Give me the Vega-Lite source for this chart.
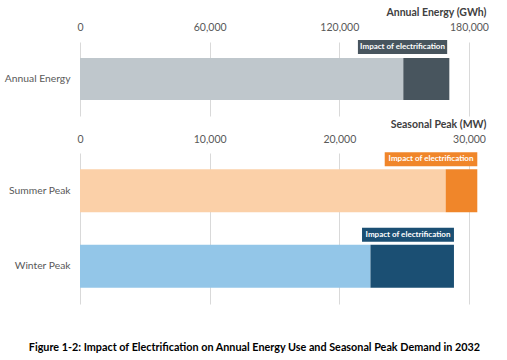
{
  "$schema": "https://vega.github.io/schema/vega-lite/v6.json",
  "padding": {"left": 4, "top": 7, "right": 5, "bottom": 5},
  "background": "white",
  "config": {
    "view": {"stroke": null},
    "font": "Lato",
    "axisX": {
      "orient": "top",
      "grid": true,
      "gridColor": "#d9d9d9",
      "domain": false,
      "ticks": false,
      "tickSize": 0,
      "labelPadding": 10,
      "labelFontSize": 10.5,
      "labelColor": "#595959",
      "labelFlush": false,
      "labelOverlap": false,
      "titleFontWeight": "bold",
      "titleFontSize": 10.5,
      "titleColor": "#404040",
      "titleX": 406,
      "titleY": -30,
      "titleAlign": "right",
      "titleBaseline": "middle"
    },
    "axisY": {
      "domain": false,
      "ticks": false,
      "grid": false,
      "labelPadding": 10,
      "labelFontSize": 10.3,
      "labelColor": "#595959",
      "title": null
    }
  },
  "datasets": {
    "energy": [
      {"category": "Annual Energy", "series": "Annual base", "start": 0, "end": 149600},
      {"category": "Annual Energy", "series": "Annual impact", "start": 149600, "end": 170900}
    ],
    "energyBox": [
      {"category": "Annual Energy", "series": "Annual impact", "boxStart": 128600, "boxEnd": 169900, "labelX": 149250, "label": "Impact of electrification"}
    ],
    "peak": [
      {"category": "Summer Peak", "series": "Summer base", "start": 0, "end": 28200},
      {"category": "Summer Peak", "series": "Summer impact", "start": 28200, "end": 30640},
      {"category": "Winter Peak", "series": "Winter base", "start": 0, "end": 22400},
      {"category": "Winter Peak", "series": "Winter impact", "start": 22400, "end": 28840}
    ],
    "peakBox": [
      {"category": "Summer Peak", "series": "Summer impact", "boxStart": 23500, "boxEnd": 30640, "labelX": 27070, "label": "Impact of electrification"},
      {"category": "Winter Peak", "series": "Winter impact", "boxStart": 21750, "boxEnd": 28840, "labelX": 25295, "label": "Impact of electrification"}
    ]
  },
  "title": {
    "text": "Figure 1-2: Impact of Electrification on Annual Energy Use and Seasonal Peak Demand in 2032",
    "orient": "bottom",
    "anchor": "middle",
    "fontSize": 10.8,
    "fontWeight": "bold",
    "color": "#000000",
    "offset": 38,
    "dx": 8
  },
  "spacing": 3,
  "resolve": {"scale": {"x": "independent", "y": "independent"}},
  "vconcat": [
    {
      "width": 389,
      "height": 74,
      "encoding": {
        "y": {"field": "category", "type": "nominal", "scale": {"padding": 0}}
      },
      "layer": [
        {
          "data": {"name": "energy"},
          "mark": {"type": "bar", "height": 42},
          "encoding": {
            "x": {"field": "start", "type": "quantitative", "scale": {"domain": [0, 180000], "nice": false}, "axis": {"values": [0, 60000, 120000, 180000], "format": ",d", "title": "Annual Energy (GWh)"}},
            "x2": {"field": "end"},
            "color": {"field": "series", "type": "nominal", "legend": null, "scale": {"domain": ["Annual base", "Annual impact", "Summer base", "Summer impact", "Winter base", "Winter impact"], "range": ["#bfc7cc", "#48555e", "#fbd0a8", "#f0862a", "#93c6e8", "#1b4f73"]}}
          }
        },
        {
          "data": {"name": "energyBox"},
          "mark": {"type": "bar", "height": 14, "yOffset": -32},
          "encoding": {
            "x": {"field": "boxStart", "type": "quantitative"},
            "x2": {"field": "boxEnd"},
            "color": {"field": "series", "type": "nominal", "legend": null}
          }
        },
        {
          "data": {"name": "energyBox"},
          "mark": {"type": "text", "yOffset": -32, "color": "white", "fontWeight": "bold", "fontSize": 8, "align": "center", "baseline": "middle"},
          "encoding": {
            "x": {"field": "labelX", "type": "quantitative"},
            "text": {"field": "label"}
          }
        }
      ]
    },
    {
      "width": 389,
      "height": 151,
      "encoding": {
        "y": {"field": "category", "type": "nominal", "sort": ["Summer Peak", "Winter Peak"], "scale": {"padding": 0}}
      },
      "layer": [
        {
          "data": {"name": "peak"},
          "mark": {"type": "bar", "height": 43},
          "encoding": {
            "x": {"field": "start", "type": "quantitative", "scale": {"domain": [0, 30000], "nice": false}, "axis": {"values": [0, 10000, 20000, 30000], "format": ",d", "title": "Seasonal Peak (MW)", "titleY": -29, "labelPadding": 9}},
            "x2": {"field": "end"},
            "color": {"field": "series", "type": "nominal", "legend": null}
          }
        },
        {
          "data": {"name": "peakBox"},
          "mark": {"type": "bar", "height": 14, "yOffset": -31.5},
          "encoding": {
            "x": {"field": "boxStart", "type": "quantitative"},
            "x2": {"field": "boxEnd"},
            "color": {"field": "series", "type": "nominal", "legend": null}
          }
        },
        {
          "data": {"name": "peakBox"},
          "mark": {"type": "text", "yOffset": -31.5, "color": "white", "fontWeight": "bold", "fontSize": 8, "align": "center", "baseline": "middle"},
          "encoding": {
            "x": {"field": "labelX", "type": "quantitative"},
            "text": {"field": "label"}
          }
        }
      ]
    }
  ]
}
